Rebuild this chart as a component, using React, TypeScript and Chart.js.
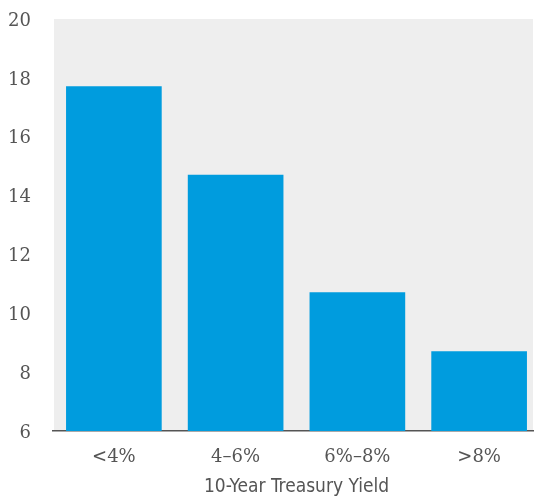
import React, { useEffect, useRef } from "react";
import { Chart, registerables } from "chart.js";

Chart.register(...registerables);

const categories = ["<4%", "4–6%", "6%–8%", ">8%"];
const values = [17.7, 14.7, 10.7, 8.7];
const yTicks = [6, 8, 10, 12, 14, 16, 18, 20];
const axisTitle = "10-Year Treasury Yield";

const bgPlugin = {
  id: "plotBg",
  beforeDraw(chart: any) {
    const { ctx, chartArea } = chart;
    ctx.save();
    ctx.fillStyle = "#eeeeee";
    const left = chartArea.left + 1;
    const right = Math.min(chartArea.right, 533);
    ctx.fillRect(left, chartArea.top, right - left, chartArea.bottom - chartArea.top);
    ctx.restore();
  },
};

export default function App() {
  const ref = useRef<HTMLCanvasElement>(null);
  useEffect(() => {
    if (!ref.current) return;
    const chart = new Chart(ref.current, {
      type: "bar",
      data: {
        labels: categories,
        datasets: [
          {
            data: values,
            backgroundColor: "#009cde",
            barThickness: 95,
          },
        ],
      },
      options: {
        animation: false,
        responsive: false,
        layout: { padding: { top: 19, right: 0, left: 0, bottom: 0 } },
        plugins: { legend: { display: false }, tooltip: { enabled: false } },
        scales: {
          x: {
            grid: { display: false, drawTicks: false },
            border: { display: true, color: "#555555", width: 1.5 },
            afterFit: (scale: any) => {
              scale.height = 67;
              scale.paddingLeft = 0;
              scale.paddingRight = 0;
            },
            ticks: {
              padding: 16,
              color: "#555555",
              font: { family: "DejaVu Serif", size: 18 },
            },
            title: {
              display: true,
              text: axisTitle,
              color: "#555555",
              padding: { top: 0, bottom: 0 },
              font: { family: "'Liberation Sans Narrow', 'DejaVu Sans Condensed', Roboto, sans-serif", size: 19 },
            },
          },
          y: {
            min: 6,
            max: 20,
            grid: { display: false, drawTicks: false },
            border: { display: false },
            afterBuildTicks: (scale: any) => {
              scale.ticks = yTicks.map((v) => ({ value: v }));
            },
            afterFit: (scale: any) => {
              scale.width = 53;
              scale.paddingTop = 0;
              scale.paddingBottom = 0;
            },
            ticks: {
              padding: 22,
              labelOffset: 2,
              color: "#555555",
              font: { family: "DejaVu Serif", size: 18 },
            },
          },
        },
      },
      plugins: [bgPlugin],
    } as any);
    return () => chart.destroy();
  }, []);
  return (
    <div style={{ position: "fixed", left: 0, top: 0, width: 534, height: 498, background: "#fff", overflow: "hidden" }}>
      <canvas ref={ref} width={540} height={498} />
    </div>
  );
}
